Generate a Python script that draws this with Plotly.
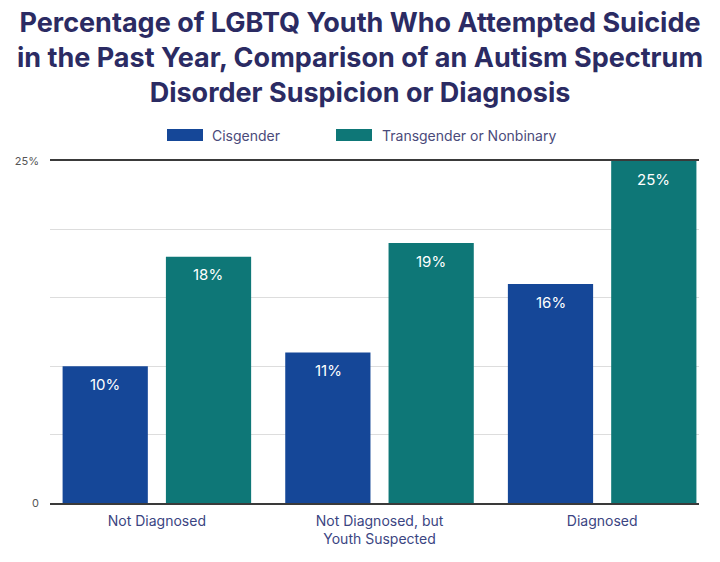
import plotly.graph_objects as go

categories = ["Not Diagnosed", "Not Diagnosed, but<br>Youth Suspected", "Diagnosed"]
cisgender = [10, 11, 16]
trans_nb = [18, 19, 25]
series_names = ["Cisgender", "Transgender or Nonbinary"]
colors = ["#154798", "#0e7777"]
y_tickvals = [0, 5, 10, 15, 20, 25]
y_ticktext = ["0", "", "", "", "", "25%"]

FONT = "Inter"
NAVY = "#3b4582"

fig = go.Figure()
for name, vals, col in zip(series_names, [cisgender, trans_nb], colors):
    fig.add_trace(go.Bar(
        x=categories, y=vals, name=name, marker_color=col,
        marker_line_width=0,
        showlegend=False, hoverinfo="skip",
    ))

# value labels placed at each bar top (inside), offset to bar centre
for vals, xs in zip([cisgender, trans_nb], [-51.5, 51.5]):
    for c, v in zip(categories, vals):
        fig.add_annotation(x=c, y=v, text=f"{v}%", showarrow=False,
                           xshift=xs, yshift=-18, yanchor="middle",
                           font=dict(family=FONT, size=15, color="white"))

L, R, T, B = 50, 21, 161, 59
fig.update_layout(
    width=720, height=562,
    margin=dict(l=L, r=R, t=T, b=B, autoexpand=False),
    paper_bgcolor="white", plot_bgcolor="white",
    barmode="group", bargap=0.072, bargroupgap=0.175,
    title=dict(
        text="Percentage of LGBTQ Youth Who Attempted Suicide<br>in the Past Year, Comparison of an Autism Spectrum<br>Disorder Suspicion or Diagnosis",
        x=0.5, xanchor="center", y=0.943, yanchor="top",
        font=dict(family=FONT, size=27, color="#2b2b63", weight="bold"),
    ),
    xaxis=dict(
        type="category", range=[-0.48, 2.435], automargin=False,
        showline=True, mirror=True, linecolor="#3a3a3a", linewidth=2,
        ticks="", tickfont=dict(family=FONT, size=14, color=NAVY),
        ticklabelstandoff=4,
        showgrid=False, fixedrange=True,
    ),
    yaxis=dict(
        range=[0, 25], tickvals=y_tickvals, ticktext=y_ticktext, automargin=False,
        showgrid=True, gridcolor="#dddddd", gridwidth=1,
        zeroline=False, showline=False, ticks="",
        tickfont=dict(family=FONT, size=11, color="#555555"),
        ticklabelstandoff=10,
    ),
)

# legend swatches and labels in paper coords
sw = [(167, 203, 210, series_names[0], colors[0]), (336, 372, 380, series_names[1], colors[1])]
pw = 720 - L - R
ph = 562 - T - B
def px2x(px):
    return (px - L) / pw
def py2y(py):
    return (562 - B - py) / ph
for x0, x1, tx, label, col in sw:
    fig.add_shape(type="rect", xref="paper", yref="paper",
                  x0=px2x(x0), x1=px2x(x1), y0=py2y(141), y1=py2y(129),
                  fillcolor=col, line_width=0)
    fig.add_annotation(xref="paper", yref="paper", x=px2x(tx), y=py2y(135),
                       text=label, showarrow=False, xanchor="left", yanchor="middle",
                       font=dict(family=FONT, size=14, color="#4a4a7a"))

fig.write_html("out.html", config={"displayModeBar": False},
               post_script="document.body.style.margin='0';")
